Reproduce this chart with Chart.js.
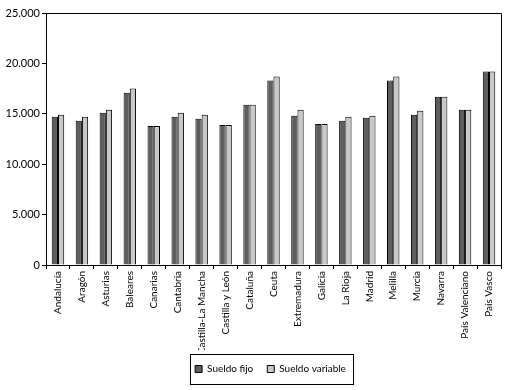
<!DOCTYPE html>
<html>
<head>
<meta charset="utf-8">
<script src="https://cdn.jsdelivr.net/npm/chart.js@4.4.1/dist/chart.umd.min.js"></script>
<style>
  html, body { margin: 0; padding: 0; background: #fff; }
  #wrap { width: 508px; height: 390px; }
</style>
</head>
<body>
<div id="wrap"><canvas id="chart"></canvas></div>
<script>
// data
const categories = ["Andalucía", "Aragón", "Asturias", "Baleares", "Canarias", "Cantabria",
  "Castilla-La Mancha", "Castilla y León", "Cataluña", "Ceuta", "Extremadura", "Galicia",
  "La Rioja", "Madrid", "Melilla", "Murcia", "Navarra", "País Valenciano", "País Vasco"];
const sueldoFijo = [14700, 14300, 15100, 17100, 13800, 14700, 14500, 13900, 15900, 18300,
  14800, 14000, 14300, 14600, 18300, 14900, 16700, 15400, 19200];
const sueldoVariable = [14900, 14700, 15400, 17500, 13800, 15100, 14900, 13900, 15900, 18700,
  15400, 14000, 14700, 14800, 18700, 15300, 16700, 15400, 19200];
const yTicks = [0, 5000, 10000, 15000, 20000, 25000];

const FONT = "Lato, 'DejaVu Sans', sans-serif";

// frame around plot area + box around legend, legend centred under the plot
const framePlugin = {
  id: "frame",
  afterLayout(chart) {
    // move legend so it is centred under the plot area, not the canvas
    chart.legend.left += 40;
  },
  afterDraw(chart) {
    const ctx = chart.ctx;
    const a = chart.chartArea;
    ctx.save();
    ctx.strokeStyle = "#000";
    ctx.lineWidth = 1;
    ctx.beginPath();
    ctx.moveTo(Math.round(a.left) + 0.5, Math.round(a.top) + 0.5);
    ctx.lineTo(Math.round(a.right) + 0.5, Math.round(a.top) + 0.5);
    ctx.lineTo(Math.round(a.right) + 0.5, Math.round(a.bottom) + 0.5);
    ctx.stroke();
    const hb = chart.legend.legendHitBoxes;
    if (hb && hb.length) {
      const x0 = Math.min(...hb.map(h => h.left)) - 5;
      const x1 = Math.max(...hb.map(h => h.left + h.width)) + 7;
      const cy = hb[0].top + hb[0].height / 2;
      ctx.strokeRect(Math.round(x0) + 0.5, Math.round(cy - 15) + 0.5, Math.round(x1 - x0), 30);
    }
    ctx.restore();
  }
};

const ctx = document.getElementById("chart").getContext("2d");
new Chart(ctx, {
  type: "bar",
  data: {
    labels: categories,
    datasets: [
      { label: "Sueldo fijo", data: sueldoFijo, backgroundColor: "#5e5e5e",
        borderColor: "#000", borderWidth: 1 },
      { label: "Sueldo variable", data: sueldoVariable, backgroundColor: "#c8c8c8",
        borderColor: "#000", borderWidth: 1 }
    ]
  },
  options: {
    responsive: true,
    maintainAspectRatio: false,
    animation: false,
    layout: { padding: { top: 13, right: 7, bottom: 6, left: 0 } },
    datasets: { bar: { categoryPercentage: 0.52, barPercentage: 1.0 } },
    scales: {
      x: {
        grid: { display: true, drawOnChartArea: false, offset: true, tickLength: 4, color: "#000" },
        border: { color: "#000", width: 1 },
        ticks: {
          autoSkip: false, maxRotation: 90, minRotation: 90, padding: 2,
          color: "#000", font: { family: FONT, size: 10 }
        },
        afterFit(scale) { scale.height = 85; }
      },
      y: {
        min: 0, max: 25000,
        afterBuildTicks(scale) { scale.ticks = yTicks.map(v => ({ value: v })); },
        grid: { display: true, drawOnChartArea: false, tickLength: 4, color: "#000" },
        border: { color: "#000", width: 1 },
        ticks: {
          padding: 2, color: "#000", font: { family: FONT, size: 11 },
          callback: v => v.toLocaleString("de-DE")
        },
        afterFit(scale) { scale.width = 46; }
      }
    },
    plugins: {
      legend: {
        position: "bottom",
        labels: {
          boxWidth: 7, boxHeight: 7, padding: 14, color: "#000",
          font: { family: FONT, size: 10 }
        }
      },
      tooltip: { enabled: false },
      title: { display: false }
    }
  },
  plugins: [framePlugin]
});
</script>
</body>
</html>
